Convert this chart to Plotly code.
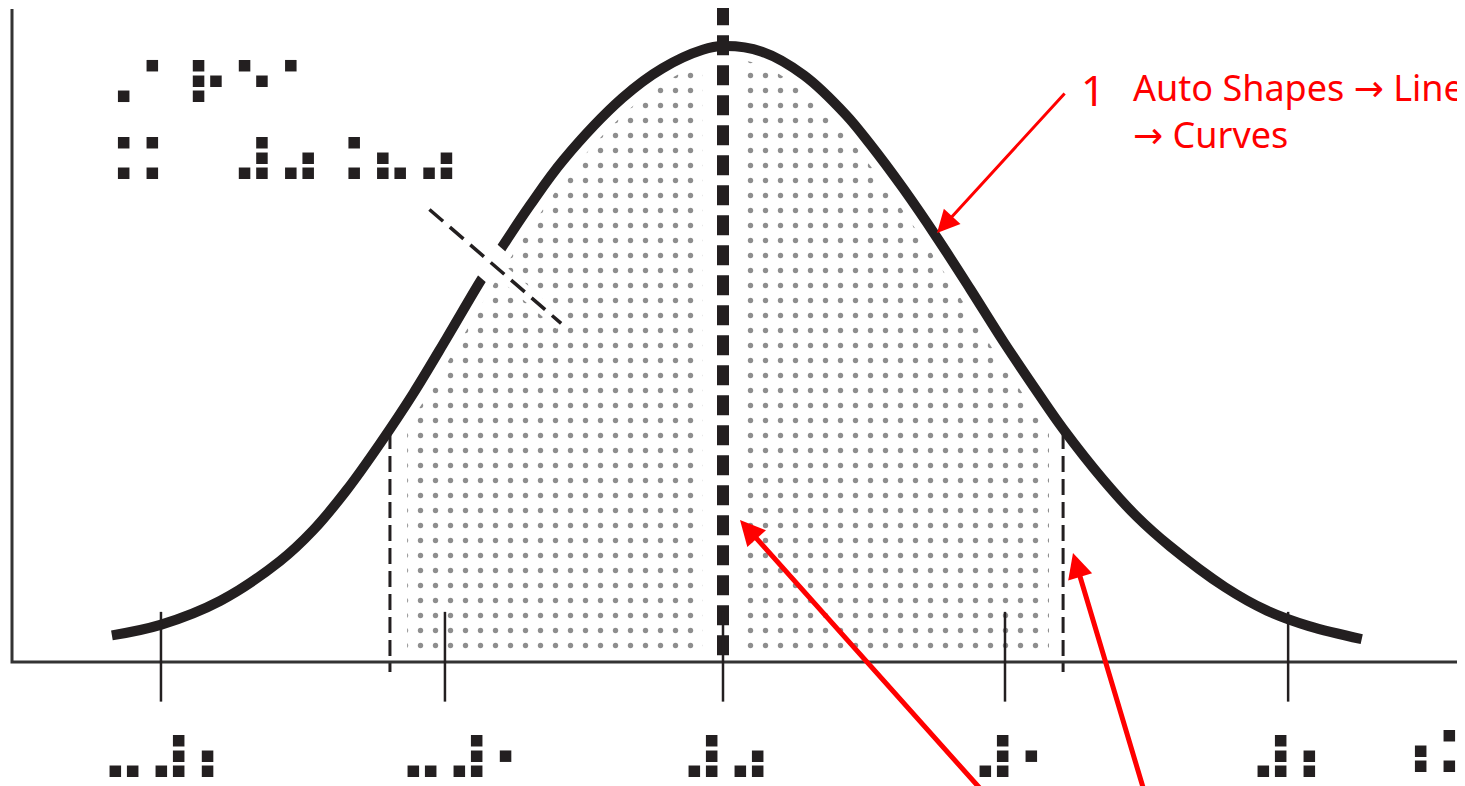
import numpy as np
import plotly.graph_objects as go

W, H = 1465, 786

# ---------------- data ----------------
# bell curve, x in axis units (tick spacing = 1), y relative to peak height
curve_x = [-2.167, -1.995, -1.782, -1.571, -1.453, -1.334, -1.216, -1.098, -0.980,
           -0.862, -0.791, -0.684, -0.566, -0.357, -0.215, -0.072, 0.000, 0.138,
           0.287, 0.436, 0.521, 0.639, 0.758, 0.876, 0.994, 1.112, 1.207, 1.349,
           1.467, 1.585, 1.780, 1.929, 2.078, 2.265]
curve_y = [0.043, 0.060, 0.099, 0.163, 0.213, 0.278, 0.353, 0.434, 0.523,
           0.614, 0.665, 0.738, 0.811, 0.911, 0.959, 0.989, 0.995, 0.986,
           0.948, 0.884, 0.837, 0.765, 0.686, 0.603, 0.518, 0.438, 0.376, 0.294,
           0.235, 0.187, 0.121, 0.083, 0.058, 0.037]

tick_pos = [-1.993, -0.986, 0.0, 1.0, 2.004]
tick_labels = ["⠤⠼⠆", "⠤⠼⠂", "⠼⠴", "⠼⠂", "⠼⠆"]       # Nemeth: -2, -1, 0, 1, 2
axis_label = "⠰⠵"                                          # Nemeth: z
area_text = ["⠠⠁⠗⠑⠁", "⠨⠅⠀⠼⠴⠨⠦⠴"]                   # "Area" / "= 0.80"

bound_x = [-1.181, 1.206]          # dashed limits of the shaded 80 % area
bound_top = 0.370
shade_lo, shade_hi = -1.120, 1.156
shade_gap = [-0.071, 0.064]        # unshaded strip along the mean line
shade_floor = 0.018

diag_x = [-1.041, -0.574]          # dashed leader from the label to the area
diag_y = [0.731, 0.547]

note_number = "1"
ARROW = "<span style='font-family:DejaVu Sans'>→</span>"
note_text = "Auto Shapes " + ARROW + " Lines<br>" + ARROW + " Curves"

# ---------------- geometry helpers ----------------
# the page body adds an 8 px margin, so screen pixel = figure pixel + 8
OFF = 8
X_RANGE = [(OFF - 723) / 282, (W + OFF - 723) / 282]
Y_RANGE = [(662 - H - OFF) / 619, (662 - OFF) / 619]
INK = "#231f20"


def px(x):
    return (x - OFF) / W


def py(y):
    return 1 - (y - OFF) / H


cx = np.array(curve_x)
cy = np.array(curve_y)


def shade_poly(lo, hi):
    inner = cx[(cx > lo) & (cx < hi)]
    xs = np.concatenate([[lo], inner, [hi]])
    ys = np.interp(xs, cx, cy)
    xs = np.concatenate([xs, [hi, lo, lo]])
    ys = np.concatenate([ys, [shade_floor, shade_floor, ys[0]]])
    return xs, ys


fig = go.Figure()

pattern = dict(shape=".", size=15, solidity=0.1, fgcolor="#1e1e1e", bgcolor="white")
for lo, hi in [(shade_lo, shade_gap[0]), (shade_gap[1], shade_hi)]:
    xs, ys = shade_poly(lo, hi)
    fig.add_trace(go.Scatter(x=xs, y=ys, mode="lines", fill="toself",
                             fillcolor="white", fillpattern=pattern,
                             line=dict(width=0, color="rgba(0,0,0,0)"),
                             hoverinfo="skip"))

# curve with white halo
fig.add_trace(go.Scatter(x=curve_x, y=curve_y, mode="lines",
                         line=dict(color="white", width=26, shape="spline"),
                         hoverinfo="skip"))
fig.add_trace(go.Scatter(x=curve_x, y=curve_y, mode="lines",
                         line=dict(color=INK, width=10, shape="spline"),
                         hoverinfo="skip"))

# mean line
fig.add_trace(go.Scatter(x=[0, 0], y=[1.061, 0], mode="lines",
                         line=dict(color=INK, width=12, dash="20px,10px"),
                         hoverinfo="skip"))

# boundary dashed lines
bx, by = [], []
for b in bound_x:
    bx += [b, b, None]
    by += [bound_top, -0.016, None]
fig.add_trace(go.Scatter(x=bx, y=by, mode="lines",
                         line=dict(color=INK, width=3, dash="16px,7px"),
                         hoverinfo="skip"))

# diagonal leader: halo, gap in curve, dashed line
fig.add_trace(go.Scatter(x=diag_x, y=diag_y, mode="lines",
                         line=dict(color="white", width=14), hoverinfo="skip"))
t0, t1 = 0.40, 0.53
gx = [diag_x[0] + t * (diag_x[1] - diag_x[0]) for t in (t0, t1)]
gy = [diag_y[0] + t * (diag_y[1] - diag_y[0]) for t in (t0, t1)]
fig.add_trace(go.Scatter(x=gx, y=gy, mode="lines",
                         line=dict(color="white", width=36), hoverinfo="skip"))
fig.add_trace(go.Scatter(x=diag_x, y=diag_y, mode="lines",
                         line=dict(color=INK, width=3.5, dash="18px,9px"),
                         hoverinfo="skip"))

# axes
ax_left = (12 - 723) / 282
ax_right = (1461 - 723) / 282
fig.add_trace(go.Scatter(x=[ax_left, ax_left, ax_right], y=[(662 - 9) / 619, 0, 0],
                         mode="lines", line=dict(color="#333333", width=3),
                         hoverinfo="skip"))

# ticks
tx, ty = [], []
for t in tick_pos:
    tx += [t, t, None]
    ty += [0.081, -0.064, None]
fig.add_trace(go.Scatter(x=tx, y=ty, mode="lines",
                         line=dict(color=INK, width=2.5), hoverinfo="skip"))

# ---------------- texts ----------------
BR = dict(family="DejaVu Sans", size=59, color=INK, weight="bold")
LEFT_PAD = 14.6      # glyph edge to first dot column at this size
VSHIFT = 5.2         # text-box centre sits this far below the middle dot row
ann = []
label_shift = [-47.7, -33.0, -30.7, -21.4, -27.0]
for t, lab, s in zip(tick_pos, tick_labels, label_shift):
    ann.append(dict(x=t, xref="x", y=py(755.3 + VSHIFT), yref="paper", text=lab,
                    xanchor="left", yanchor="middle", xshift=s - LEFT_PAD,
                    showarrow=False, font=BR))
ann.append(dict(x=px(1401.5 - LEFT_PAD), xref="paper", y=py(750.7 + VSHIFT),
                yref="paper", text=axis_label, xanchor="left", yanchor="middle",
                showarrow=False, font=BR))
ann.append(dict(x=px(105 - LEFT_PAD), xref="paper", y=py(80 + VSHIFT), yref="paper",
                text=area_text[0], xanchor="left", yanchor="middle",
                showarrow=False, font=BR))
ann.append(dict(x=px(105 - LEFT_PAD), xref="paper", y=py(157.3 + VSHIFT), yref="paper",
                text=area_text[1], xanchor="left", yanchor="middle",
                showarrow=False, font=BR))

RED = "#ff0000"
ann.append(dict(x=px(1079), xref="paper", y=py(90), yref="paper", text=note_number,
                xanchor="left", yanchor="middle", showarrow=False,
                font=dict(family="Noto Sans", size=42, color=RED)))
ann.append(dict(x=px(1131), xref="paper", y=py(111), yref="paper", text=note_text,
                xanchor="left", yanchor="middle", align="left", showarrow=False,
                font=dict(family="Noto Sans", size=36, color=RED)))

# red arrows
for (tipx, tipy, dx, dy, w) in [(937, 233, 129, -141, 3),
                                (740, 520, 245, 280, 5),
                                (1073, 553, 72, 247, 5)]:
    ann.append(dict(x=px(tipx), y=py(tipy), xref="paper", yref="paper",
                    ax=dx, ay=dy, text="", showarrow=True, arrowhead=2,
                    arrowsize=1.0 if w == 5 else 1.5, arrowwidth=w,
                    arrowcolor=RED, standoff=0))

fig.update_layout(
    width=W, height=H, margin=dict(l=0, r=0, t=0, b=0),
    paper_bgcolor="white", plot_bgcolor="white", showlegend=False,
    xaxis=dict(range=X_RANGE, visible=False, fixedrange=True),
    yaxis=dict(range=Y_RANGE, visible=False, fixedrange=True),
    annotations=ann,
)

fig.write_html("out.html")
